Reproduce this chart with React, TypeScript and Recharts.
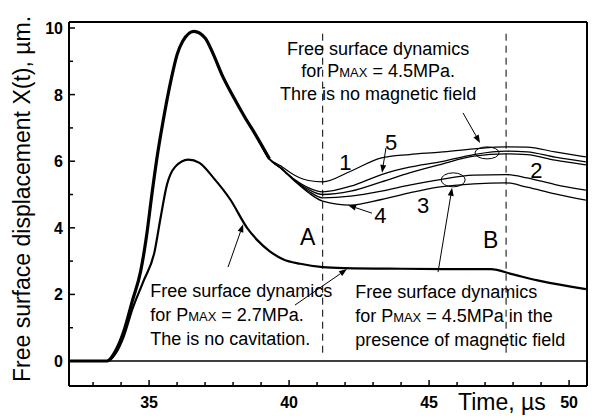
import React from "react";
import { LineChart, Line, XAxis, YAxis, ReferenceLine, ReferenceDot } from "recharts";

// main pulse for Pmax = 4.5 MPa (common part of curves 1-5)
const mainT = [32.15, 33.0, 33.5, 33.8, 34.1, 34.4, 34.7, 34.9, 35.1, 35.3, 35.5, 35.8, 36.0, 36.2, 36.6, 37.0, 37.3, 37.6, 38.0, 38.4, 38.8, 39.3];
const mainX = [0, 0, 0, 0.3, 0.9, 1.8, 2.7, 3.7, 5.0, 6.2, 7.2, 8.5, 9.2, 9.6, 9.9, 9.7, 9.2, 8.6, 7.95, 7.35, 6.8, 6.07];

// branches after the minimum (curves 1-5)
const branchT = [38.4, 38.8, 39.3, 39.7, 40.2, 40.7, 41.2, 42.2, 43.3, 44.3, 45.4, 46.6, 47.75, 48.5, 49.5, 50.6];
const curve1 = [7.35, 6.8, 6.08, 5.86, 5.58, 5.42, 5.38, 5.7, 6.1, 6.2, 6.27, 6.37, 6.43, 6.42, 6.28, 6.13];
const curve5 = [7.35, 6.8, 6.06, 5.8, 5.45, 5.2, 5.08, 5.25, 5.6, 5.82, 5.98, 6.2, 6.3, 6.28, 6.12, 5.98];
const curve2 = [7.35, 6.8, 6.06, 5.8, 5.43, 5.15, 5.0, 5.1, 5.38, 5.65, 5.9, 6.15, 6.22, 6.2, 6.03, 5.89];
const curve3 = [7.35, 6.8, 6.06, 5.8, 5.42, 5.1, 4.9, 4.95, 5.1, 5.28, 5.45, 5.58, 5.6, 5.5, 5.3, 5.13];
const curve4 = [7.35, 6.8, 6.06, 5.79, 5.4, 5.05, 4.8, 4.68, 4.85, 5.05, 5.23, 5.32, 5.35, 5.22, 5.02, 4.83];

// Pmax = 2.7 MPa, no cavitation
const smallT = [32.15, 33.0, 33.5, 33.8, 34.1, 34.4, 34.8, 35.2, 35.4, 35.64, 35.93, 36.4, 36.8, 37.3, 37.9, 38.5, 38.9, 39.3, 39.8, 40.4, 41.2, 42.0, 44.0, 46.0, 47.2, 48.0, 49.0, 50.6];
const smallX = [0, 0, 0, 0.22, 0.75, 1.55, 2.4, 3.3, 4.25, 5.3, 5.83, 6.05, 5.95, 5.5, 4.85, 4.0, 3.6, 3.3, 3.05, 2.92, 2.82, 2.79, 2.77, 2.76, 2.76, 2.6, 2.4, 2.16];

const xTicks = [33, 34, 35, 36, 37, 38, 39, 40, 41, 42, 43, 44, 45, 46, 47, 48, 49, 50];
const yTicks = [0, 1, 2, 3, 4, 5, 6, 7, 8, 9, 10];
const xDomain = [32.14, 50.64];
const yDomain = [-0.75, 10.18];

const lineA = 41.2;
const lineB = 47.75;

const FONT = "'Liberation Sans', Arial, sans-serif";

const toRows = (t: number[], v: number[]) => t.map((tt, i) => ({ t: tt, v: v[i] }));

const XTick = (props: any) => {
  const { x, y, payload } = props;
  const major = payload.value % 5 === 0;
  return (
    <g>
      <line x1={x} x2={x} y1={y} y2={y - (major ? 6 : 4)} stroke="#000" strokeWidth={1.5} />
      {major && (
        <text x={x} y={y + 22} textAnchor="middle" fontSize={16} fontWeight="bold" fontFamily={FONT} fill="#000">
          {payload.value}
        </text>
      )}
    </g>
  );
};

const YTick = (props: any) => {
  const { x, y, payload } = props;
  const major = payload.value % 2 === 0;
  return (
    <g>
      <line x1={x} x2={x + (major ? 6 : 4)} y1={y} y2={y} stroke="#000" strokeWidth={1.5} />
      {major && (
        <text x={x - 6} y={y + 6} textAnchor="end" fontSize={16} fontWeight="bold" fontFamily={FONT} fill="#000">
          {payload.value}
        </text>
      )}
    </g>
  );
};

// thin line with a filled arrowhead at the second point
const Arrow = (p: any) => {
  const { x1, y1, x2, y2 } = p;
  const a = Math.atan2(y2 - y1, x2 - x1);
  const L = 8;
  const W = 3;
  const bx = x2 - L * Math.cos(a);
  const by = y2 - L * Math.sin(a);
  const px = -Math.sin(a) * W;
  const py = Math.cos(a) * W;
  return (
    <g>
      <line x1={x1} y1={y1} x2={bx} y2={by} stroke="#000" strokeWidth={1} />
      <polygon points={`${x2},${y2} ${bx + px},${by + py} ${bx - px},${by - py}`} fill="#000" />
    </g>
  );
};

const textShape = (lines: string[][], size: number, anchor: string, lh: number) => (p: any) => (
  <text x={p.cx} y={p.cy} fontSize={size} fontFamily={FONT} textAnchor={anchor} fill="#000">
    {lines.map((parts, i) => (
      <tspan key={i} x={p.cx} dy={i === 0 ? 0 : lh}>
        {parts.map((s, j) =>
          s === "MAX" ? (
            <tspan key={j} fontSize={size * 0.72}>MAX</tspan>
          ) : (
            <tspan key={j}>{s}</tspan>
          )
        )}
      </tspan>
    ))}
  </text>
);

const ellipseShape = (rx: number, ry: number) => (p: any) => (
  <ellipse cx={p.cx} cy={p.cy} rx={rx} ry={ry} fill="none" stroke="#000" strokeWidth={1} />
);

const arrows = [
  [[43.46, 6.4], [43.32, 5.65]],
  [[46.21, 7.45], [46.82, 6.55]],
  [[45.32, 2.67], [45.82, 5.2]],
  [[42.96, 4.44], [42.11, 4.68]],
  [[37.82, 2.82], [38.36, 4.11]],
  [[40.21, 1.68], [42.07, 2.76]],
];

export default function App() {
  return (
    <div style={{ position: "absolute", left: 0, top: 0, width: 599, height: 417, background: "#fff" }}>
      <LineChart width={599} height={417} margin={{ top: 22, right: 12, bottom: 0, left: 0 }}>
        <XAxis
          type="number"
          dataKey="t"
          domain={xDomain}
          allowDataOverflow
          ticks={xTicks}
          interval={0}
          height={31}
          tickSize={0}
          tickMargin={0}
          tickLine={false}
          tick={<XTick />}
          axisLine={{ stroke: "#000", strokeWidth: 2 }}
          label={{
            content: () => (
              <text x={458} y={410} fontSize={23} fontFamily={FONT} fill="#000">
                Time, µs
              </text>
            ),
          }}
        />
        <YAxis
          type="number"
          dataKey="v"
          domain={yDomain}
          allowDataOverflow
          ticks={yTicks}
          interval={0}
          width={69}
          tickSize={0}
          tickMargin={0}
          tickLine={false}
          tick={<YTick />}
          axisLine={{ stroke: "#000", strokeWidth: 2 }}
          label={{
            content: () => (
              <text transform="translate(30, 199) rotate(-90)" textAnchor="middle" fontSize={23} fontFamily={FONT} fill="#000">
                Free surface displacement X(t), µm.
              </text>
            ),
          }}
        />
        <ReferenceLine y={yDomain[1]} stroke="#000" strokeWidth={2} />
        <ReferenceLine x={xDomain[1]} stroke="#000" strokeWidth={2} />
        <ReferenceLine y={0} stroke="#000" strokeWidth={1.5} />
        <ReferenceLine segment={[{ x: lineA, y: 0.25 }, { x: lineA, y: 9.9 }]} stroke="#000" strokeWidth={1} strokeDasharray="7 5" />
        <ReferenceLine segment={[{ x: lineB, y: 0.25 }, { x: lineB, y: 9.9 }]} stroke="#000" strokeWidth={1} strokeDasharray="7 5" />

        <Line data={toRows(smallT, smallX)} dataKey="v" type="monotone" stroke="#000" strokeWidth={2.2} dot={false} isAnimationActive={false} />
        <Line data={toRows(mainT, mainX)} dataKey="v" type="monotone" stroke="#000" strokeWidth={3.2} dot={false} isAnimationActive={false} />
        <Line data={toRows(branchT, curve1)} dataKey="v" type="monotone" stroke="#000" strokeWidth={1.2} dot={false} isAnimationActive={false} />
        <Line data={toRows(branchT, curve5)} dataKey="v" type="monotone" stroke="#000" strokeWidth={1.3} dot={false} isAnimationActive={false} />
        <Line data={toRows(branchT, curve2)} dataKey="v" type="monotone" stroke="#000" strokeWidth={1.3} dot={false} isAnimationActive={false} />
        <Line data={toRows(branchT, curve3)} dataKey="v" type="monotone" stroke="#000" strokeWidth={1.3} dot={false} isAnimationActive={false} />
        <Line data={toRows(branchT, curve4)} dataKey="v" type="monotone" stroke="#000" strokeWidth={1.3} dot={false} isAnimationActive={false} />

        {arrows.map((a, i) => (
          <ReferenceLine
            key={i}
            segment={[{ x: a[0][0], y: a[0][1] }, { x: a[1][0], y: a[1][1] }]}
            shape={(p: any) => <Arrow {...p} />}
          />
        ))}
        <ReferenceDot x={47.07} y={6.25} r={1} shape={ellipseShape(12, 6)} />
        <ReferenceDot x={45.86} y={5.44} r={1} shape={ellipseShape(12, 7)} />

        <ReferenceDot
          x={43.18}
          y={9.19}
          r={1}
          shape={textShape([["Free surface dynamics"], ["for P", "MAX", " = 4.5MPa."], ["Thre is no magnetic field"]], 18, "middle", 22.5)}
        />
        <ReferenceDot
          x={35.04}
          y={1.92}
          r={1}
          shape={textShape([["Free surface dynamics"], ["for P", "MAX", " = 2.7MPa."], ["The is no cavitation."]], 18, "start", 24)}
        />
        <ReferenceDot
          x={42.36}
          y={1.89}
          r={1}
          shape={textShape([["Free surface dynamics"], ["for P", "MAX", " = 4.5MPa in the"], ["presence of magnetic field"]], 18, "start", 24)}
        />
        <ReferenceDot x={41.79} y={5.74} r={1} shape={textShape([["1"]], 22, "start", 0)} />
        <ReferenceDot x={43.43} y={6.34} r={1} shape={textShape([["5"]], 22, "start", 0)} />
        <ReferenceDot x={48.61} y={5.5} r={1} shape={textShape([["2"]], 22, "start", 0)} />
        <ReferenceDot x={44.57} y={4.44} r={1} shape={textShape([["3"]], 22, "start", 0)} />
        <ReferenceDot x={43.04} y={4.14} r={1} shape={textShape([["4"]], 22, "start", 0)} />
        <ReferenceDot x={40.39} y={3.48} r={1} shape={textShape([["A"]], 23, "start", 0)} />
        <ReferenceDot x={46.93} y={3.39} r={1} shape={textShape([["B"]], 23, "start", 0)} />
      </LineChart>
    </div>
  );
}
